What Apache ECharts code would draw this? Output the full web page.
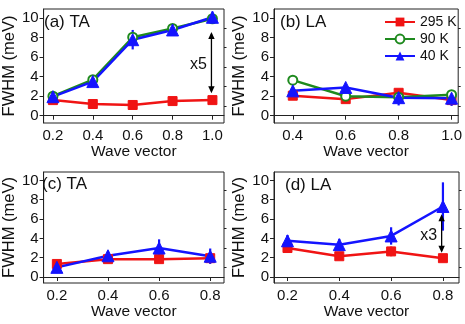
<!DOCTYPE html>
<html>
<head>
<meta charset="utf-8">
<script src="https://cdn.jsdelivr.net/npm/echarts@6/dist/echarts.min.js"></script>
<style>html,body{margin:0;padding:0;background:#fff}#c{width:465px;height:324px}</style>
</head>
<body>
<div id="c"></div>
<script>
// ---- data ----
const A_x = [0.2, 0.4, 0.6, 0.8, 1.0];
const A_295 = [1.6, 1.2, 1.1, 1.5, 1.6];
const A_90 = [2.0, 3.7, 8.05, 8.95, 9.95];
const A_40 = [1.95, 3.5, 7.8, 8.8, 10.1];
const A_40_err = [0.2, 0.4, 1.0, 0.6, 0.6];
const A_295_err = [0.2, 0.2, 0.2, 0.2, 0.2];

const B_x = [0.4, 0.6, 0.8, 1.0];
const B_295 = [2.05, 1.7, 2.35, 1.6];
const B_90 = [3.65, 2.0, 1.9, 2.15];
const B_40 = [2.55, 2.9, 1.85, 1.8];
const B_40_err = [0.3, 0.3, 0.8, 0.8];

const C_x = [0.2, 0.4, 0.6, 0.8];
const C_295 = [1.35, 1.85, 1.85, 1.95];
const C_40 = [1.0, 2.2, 3.0, 2.15];
const C_295_err = [0.4, 0.3, 0.3, 0.3];
const C_40_err = [0.6, 0.5, 0.9, 0.8];

const D_x = [0.2, 0.4, 0.6, 0.8];
const D_295 = [3.0, 2.15, 2.65, 1.95];
const D_40 = [3.75, 3.35, 4.25, 7.3];
const D_295_err = [0.4, 0.3, 0.5, 0.3];
const D_40_err = [0.6, 0.6, 0.9, 2.5];

// annotation arrows: [x, yLow, yHigh], text: [x, y, label]
const ARROW_A = [0.995, 2.3, 8.6];
const TEXT_A = [0.93, 5.2, 'x5'];
const ARROW_D = [0.795, 2.5, 6.5];
const TEXT_D = [0.745, 4.3, 'x3'];

const X_TICKS_A = [0.2, 0.4, 0.6, 0.8, 1.0];
const X_TICKS_B = [0.4, 0.6, 0.8, 1.0];
const X_TICKS_CD = [0.2, 0.4, 0.6, 0.8];
const Y_TICKS = [0, 2, 4, 6, 8, 10];
const Y_MINOR = [1, 3, 5, 7, 9];
const PANEL_LABELS = ['(a) TA', '(b) LA', '(c) TA', '(d) LA'];
const NAMES = ['295 K', '90 K', '40 K'];

// ---- style ----
const RED = '#f01414', GREEN = '#1e8a1e', BLUE = '#1414ff', AX = '#222';
const FONT = "'Liberation Sans', Arial, sans-serif";

const grids = [
  {left: 38, top: 9, width: 186, height: 114},
  {left: 274, top: 9, width: 185, height: 114},
  {left: 37, top: 172, width: 187, height: 111},
  {left: 274, top: 172, width: 185, height: 111}
].map(g => Object.assign(g, {show: true, borderColor: AX, borderWidth: 1, backgroundColor: 'transparent', containLabel: false}));

const xRanges = [[0.153, 1.058], [0.329, 1.025], [0.148, 0.854], [0.148, 0.862]];
const yRanges = [[-0.75, 10.95], [-0.75, 10.95], [-0.62, 10.87], [-0.62, 10.87]];
const xTicks = [X_TICKS_A, X_TICKS_B, X_TICKS_CD, X_TICKS_CD];

const xAxis = [], yAxis = [];
for (let i = 0; i < 4; i++) {
  xAxis.push({
    type: 'value', gridIndex: i, min: xRanges[i][0], max: xRanges[i][1],
    name: 'Wave vector', nameLocation: 'middle', nameGap: 20,
    nameTextStyle: {fontFamily: FONT, fontSize: 15.5, color: '#111'},
    axisLine: {show: true, lineStyle: {color: AX, width: 1}},
    axisTick: {show: true, inside: false, length: 4, customValues: xTicks[i], lineStyle: {color: AX, width: 1}},
    axisLabel: {customValues: xTicks[i], formatter: v => v.toFixed(1), margin: 5, fontFamily: FONT, fontSize: 15, color: '#111'},
    splitLine: {show: false}
  });
  yAxis.push({
    type: 'value', gridIndex: i, min: yRanges[i][0], max: yRanges[i][1],
    name: 'FWHM (meV)', nameLocation: 'middle', nameGap: 20,
    nameTextStyle: {fontFamily: FONT, fontSize: 16.5, color: '#111'},
    axisLine: {show: true, lineStyle: {color: AX, width: 1}},
    axisTick: {show: true, inside: false, length: 4, customValues: Y_TICKS, lineStyle: {color: AX, width: 1}},
    axisLabel: {customValues: Y_TICKS, formatter: v => String(Math.round(v)), margin: 5, fontFamily: FONT, fontSize: 15, color: '#111'},
    splitLine: {show: false}
  });
}
// minor y ticks overlay axes
for (let i = 0; i < 4; i++) {
  yAxis.push({
    type: 'value', gridIndex: i, min: yRanges[i][0], max: yRanges[i][1],
    axisLine: {show: false},
    axisTick: {show: true, inside: false, length: 2.5, customValues: Y_MINOR, lineStyle: {color: AX, width: 1}},
    axisLabel: {show: false}, splitLine: {show: false}
  });
}

function pairs(xs, ys) { return xs.map((x, k) => [x, ys[k]]); }
function errData(xs, ys, es) { return xs.map((x, k) => [x, ys[k] - es[k], ys[k] + es[k]]); }

const series = [];
function lineS(name, i, xs, ys, color, symbol, size, open) {
  series.push({
    type: 'line', name: name, xAxisIndex: i, yAxisIndex: i,
    data: pairs(xs, ys), symbol: symbol, symbolSize: size,
    lineStyle: {color: color, width: 2.5},
    itemStyle: open ? {color: '#fff', borderColor: color, borderWidth: 2} : {color: color, borderColor: color},
    color: color,
    z: 3, animation: false, emphasis: {disabled: true}
  });
}
function errS(i, xs, ys, es, color) {
  series.push({
    type: 'custom', xAxisIndex: i, yAxisIndex: i, data: errData(xs, ys, es), z: 2,
    animation: false, silent: true,
    renderItem: (p, api) => {
      const a = api.coord([api.value(0), api.value(1)]);
      const b = api.coord([api.value(0), api.value(2)]);
      return {type: 'line', shape: {x1: a[0], y1: a[1], x2: b[0], y2: b[1]}, style: {stroke: color, lineWidth: 2.2}};
    }
  });
}
function arrowS(i, arr) {
  series.push({
    type: 'custom', xAxisIndex: i, yAxisIndex: i, data: [arr], z: 4, animation: false, silent: true,
    renderItem: (p, api) => {
      const a = api.coord([api.value(0), api.value(1)]);
      const b = api.coord([api.value(0), api.value(2)]);
      const x = a[0], hw = 3.2, hl = 7;
      return {type: 'group', children: [
        {type: 'line', shape: {x1: x, y1: a[1] - 2, x2: x, y2: b[1] + 2}, style: {stroke: '#000', lineWidth: 1.3}},
        {type: 'polygon', shape: {points: [[x, b[1]], [x - hw, b[1] + hl], [x + hw, b[1] + hl]]}, style: {fill: '#000'}},
        {type: 'polygon', shape: {points: [[x, a[1]], [x - hw, a[1] - hl], [x + hw, a[1] - hl]]}, style: {fill: '#000'}}
      ]};
    }
  });
}
function textS(i, t) {
  series.push({
    type: 'custom', xAxisIndex: i, yAxisIndex: i, data: [[t[0], t[1]]], z: 4, animation: false, silent: true,
    renderItem: (p, api) => {
      const c = api.coord([api.value(0), api.value(1)]);
      return {type: 'text', x: c[0], y: c[1], style: {text: t[2], fontFamily: FONT, fontSize: 16, fill: '#111', align: 'center', verticalAlign: 'middle'}};
    }
  });
}

// panel a
errS(0, A_x, A_295, A_295_err, RED);
errS(0, A_x, A_40, A_40_err, BLUE);
lineS(NAMES[0], 0, A_x, A_295, RED, 'rect', 9, false);
lineS(NAMES[1], 0, A_x, A_90, GREEN, 'circle', 9, true);
lineS(NAMES[2], 0, A_x, A_40, BLUE, 'triangle', 12, false);
arrowS(0, ARROW_A); textS(0, TEXT_A);
// panel b
errS(1, B_x, B_40, B_40_err, BLUE);
lineS(NAMES[0], 1, B_x, B_295, RED, 'rect', 9, false);
lineS(NAMES[1], 1, B_x, B_90, GREEN, 'circle', 9, true);
lineS(NAMES[2], 1, B_x, B_40, BLUE, 'triangle', 12, false);
// panel c
errS(2, C_x, C_295, C_295_err, RED);
errS(2, C_x, C_40, C_40_err, BLUE);
lineS(NAMES[0], 2, C_x, C_295, RED, 'rect', 9, false);
lineS(NAMES[2], 2, C_x, C_40, BLUE, 'triangle', 12, false);
// panel d
errS(3, D_x, D_295, D_295_err, RED);
errS(3, D_x, D_40, D_40_err, BLUE);
lineS(NAMES[0], 3, D_x, D_295, RED, 'rect', 9, false);
lineS(NAMES[2], 3, D_x, D_40, BLUE, 'triangle', 12, false);
arrowS(3, ARROW_D); textS(3, TEXT_D);

const titlePos = [[44, 14], [280, 14], [42, 176], [285, 177]];
const title = PANEL_LABELS.map((t, k) => ({
  text: t, left: titlePos[k][0], top: titlePos[k][1], padding: 0,
  textStyle: {fontFamily: FONT, fontSize: 17, fontWeight: 'normal', color: '#111'}
}));

const chart = echarts.init(document.getElementById('c'), null, {renderer: 'canvas'});
chart.setOption({
  animation: false,
  backgroundColor: '#fff',
  title: title,
  grid: grids,
  xAxis: xAxis,
  yAxis: yAxis,
  legend: {
    data: NAMES, orient: 'vertical', left: 384, top: 15, padding: 0,
    itemWidth: 30, itemHeight: 11, itemGap: 3,
    textStyle: {fontFamily: FONT, fontSize: 14, color: '#111'},
    selectedMode: false
  },
  series: series
});
</script>
</body>
</html>
